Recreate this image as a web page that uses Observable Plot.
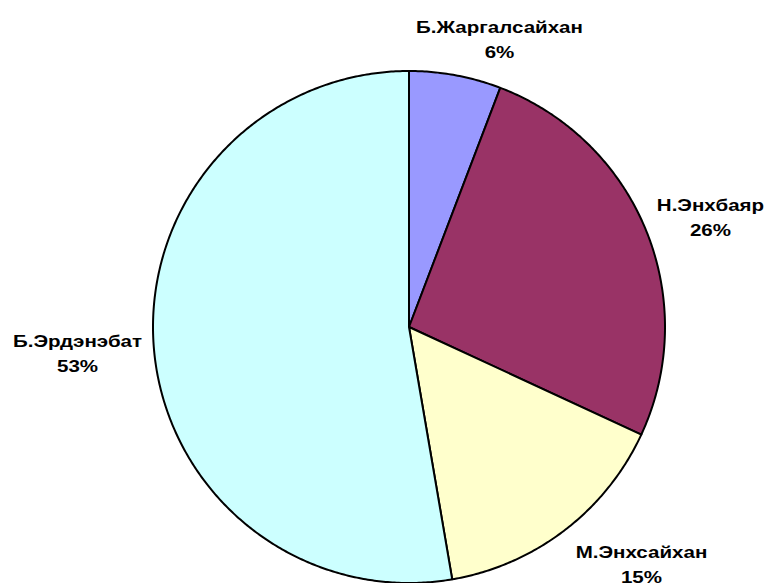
<!DOCTYPE html>
<html>
<head>
<meta charset="utf-8">
<script src="https://cdn.jsdelivr.net/npm/d3@7"></script>
<script src="https://cdn.jsdelivr.net/npm/@observablehq/plot@0.6"></script>
<style>
  html, body { margin: 0; padding: 0; background: #fff; overflow: hidden; }
</style>
</head>
<body>
<div id="chart"></div>
<script>
// ---- data ----
const names = ["Б.Жаргалсайхан", "Н.Энхбаяр", "М.Энхсайхан", "Б.Эрдэнэбат"];
const shares = [5.8, 26.1, 15.4, 52.7];
const colors = ["#9999FF", "#993366", "#FFFFCC", "#CCFFFF"];

// ---- layout (pixels) ----
const W = 770, H = 583;
const cx = 408.5, cy = 326.5, R = 256;
const labelRadius = 1.2;
const textStretch = 1.26; // horizontal stretch of the label glyphs
// per-label nudge (px) relative to mid-angle point, mimicking the spreadsheet's best-fit placement
const labelNudge = [[34.8, 12.8], [16.9, 4.5], [45.7, -8.7], [-25.4, -1.3]];

const total = d3.sum(shares);
const pie = d3.pie().sort(null).value(d => d)(shares);

// polygon points for each slice in unit-circle coordinates (y up, angle clockwise from 12 o'clock)
const slicePts = [];
pie.forEach((p, i) => {
  const name = names[i];
  slicePts.push({name, u: 0, v: 0});
  const steps = Math.max(2, Math.ceil((p.endAngle - p.startAngle) / (Math.PI / 360)));
  for (let k = 0; k <= steps; k++) {
    const a = p.startAngle + (p.endAngle - p.startAngle) * k / steps;
    slicePts.push({name, u: Math.sin(a), v: Math.cos(a)});
  }
  slicePts.push({name, u: 0, v: 0});
});

const labels = pie.map((p, i) => {
  const a = (p.startAngle + p.endAngle) / 2;
  return {
    name: names[i],
    pct: Math.round(shares[i] / total * 100),
    u: labelRadius * Math.sin(a) + labelNudge[i][0] / R,
    v: labelRadius * Math.cos(a) - labelNudge[i][1] / R
  };
});

const chart = Plot.plot({
  width: W,
  height: H,
  margin: 0,
  x: {domain: [-cx / R, (W - cx) / R], axis: null},
  y: {domain: [-(H - cy) / R, cy / R], axis: null},
  color: {domain: names, range: colors},
  style: {background: "#fff", overflow: "visible"},
  marks: [
    Plot.line(slicePts, {
      x: "u", y: "v", z: "name", fill: "name",
      stroke: "#000", strokeWidth: 2, strokeLinejoin: "round", curve: "linear"
    }),
    Plot.text(labels, {
      x: "u", y: "v",
      text: d => `${d.name}\n${d.pct}%`,
      fontSize: 16.3, fontWeight: "bold", fontFamily: "'Liberation Sans', Arial, sans-serif",
      lineHeight: 1.53, textAnchor: "middle", lineAnchor: "middle", fill: "#000"
    })
  ]
});

// stretch label glyphs horizontally around their anchor
d3.select(chart).selectAll("text").each(function() {
  let t = this.getAttribute("transform") || "";
  const x = this.getAttribute("x"), y = this.getAttribute("y");
  if (x !== null || y !== null) {
    t += ` translate(${+x || 0},${+y || 0})`;
    this.removeAttribute("x"); this.removeAttribute("y");
  }
  this.setAttribute("transform", `${t} scale(${textStretch},1)`);
});

document.getElementById("chart").appendChild(chart);
</script>
</body>
</html>
